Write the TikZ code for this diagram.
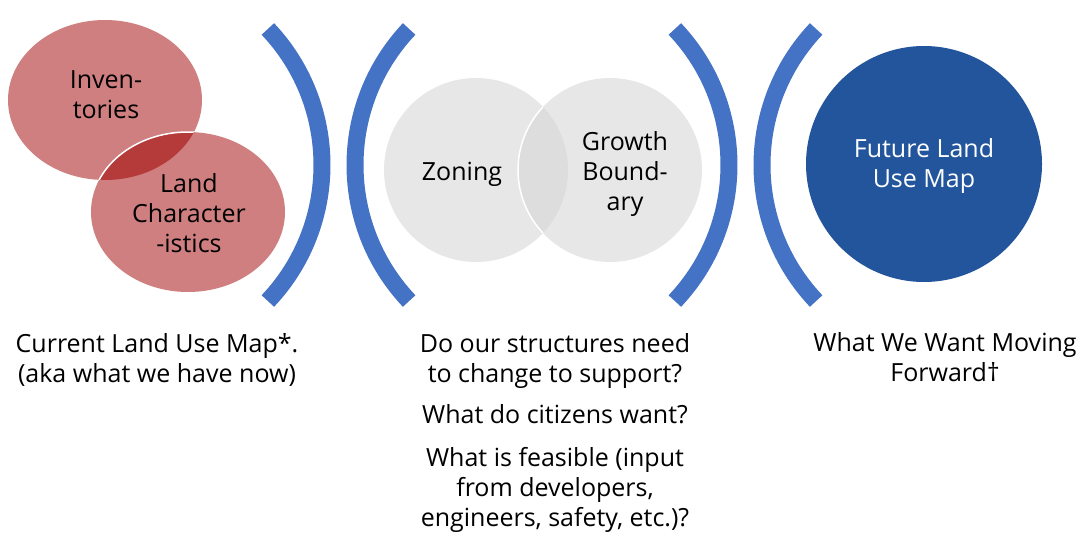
\documentclass[tikz,border=0pt]{standalone}
\usepackage{fontspec}
\setmainfont{Open Sans}
\usepackage{xcolor}
\usetikzlibrary{calc}

\definecolor{venred}{RGB}{207,127,127}
\definecolor{venredd}{RGB}{181,58,58}
\definecolor{vengray}{RGB}{231,231,231}
\definecolor{vengrayd}{RGB}{221,221,221}
\definecolor{brblue}{RGB}{68,114,196}
\definecolor{futblue}{RGB}{34,85,155}

\tikzset{
  bracket/.style={draw=brblue, line width=17pt},
  lbl/.style={font=\fontsize{25}{30}\selectfont, align=center, anchor=base, inner sep=0pt},
}

\begin{document}
\begin{tikzpicture}[x=1pt,y=-1pt]
\useasboundingbox (0,0) rectangle (1092,535);
% current land use
\fill[venred] (105,100) ellipse [x radius=97, y radius=80];
\fill[venred] (188,212) ellipse [x radius=97, y radius=80];
\begin{scope}
\clip (105,100) ellipse [x radius=97, y radius=80];
\fill[venredd] (188,212) ellipse [x radius=97, y radius=80];
\draw[white, line width=1.5pt] (188,212) ellipse [x radius=97, y radius=80];
\end{scope}
% structures
\fill[vengray] (476,170) circle [radius=92];
\fill[vengray] (610,170) circle [radius=92];
\begin{scope}
\clip (476,170) circle [radius=92];
\fill[vengrayd] (610,170) circle [radius=92];
\draw[white, line width=1.5pt] (610,170) circle [radius=92];
\end{scope}
% future
\fill[futblue] (924,164) circle [radius=118];
% brackets
\foreach \dx in {0,407} {
  \draw[bracket] (124+\dx,165) ++(-43.4:198) arc [start angle=-43.4, end angle=43.4, radius=198];
  \draw[bracket] (553+\dx,165) ++(223.4:198) arc [start angle=223.4, end angle=136.6, radius=198];
}
% labels (base = last line)
\node[lbl] (inven) at (106,118) {Inven-\\tories};
\node[lbl] (landch) at (189,252) {Land\\Character\\-istics};
\node[lbl] (zoning) at (462,180) {Zoning};
\node[lbl] (growth) at (625,210) {Growth\\Bound-\\ary};
\node[lbl, text=white] (future) at (924,187) {Future Land\\Use Map};
\node[lbl] (current) at (157,382) {Current Land Use Map*.\\(aka what we have now)};
\node[lbl] (structures) at (555,382) {Do our structures need\\to change to support?};
\node[lbl] (citizens) at (555,423) {What do citizens want?};
\node[lbl] (feasible) at (555,526) {What is feasible (input\\from developers,\\engineers, safety, etc.)?};
\node[lbl] (forward) at (945,381) {What We Want Moving\\Forward†};
\end{tikzpicture}
\end{document}
